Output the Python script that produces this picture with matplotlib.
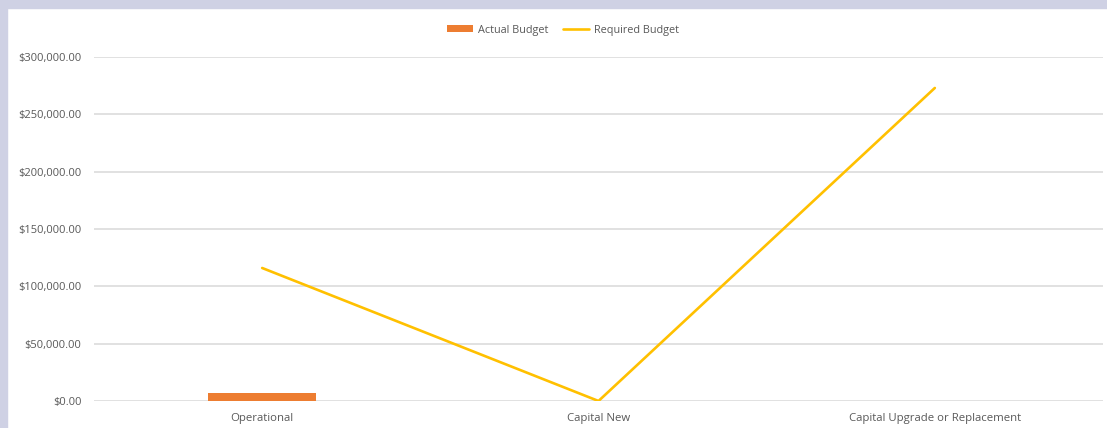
import matplotlib
matplotlib.use("Agg")
import matplotlib.pyplot as plt
from matplotlib.patches import Rectangle
from matplotlib.ticker import FuncFormatter

categories = ["Operational", "Capital New", "Capital Upgrade or Replacement"]
actual_budget = [7000, 0, 0]
required_budget = [116000, 0, 273000]
yticks = [0, 50000, 100000, 150000, 200000, 250000, 300000]

W, H = 1107, 428
fig = plt.figure(figsize=(W / 100, H / 100), dpi=100)
fig.patch.set_facecolor("white")

# lavender frame
border = "#cfd1e4"
fig.add_artist(Rectangle((0, 1 - 8 / H), 1, 8 / H, transform=fig.transFigure, color=border, zorder=0))
fig.add_artist(Rectangle((0, 0), 7 / W, 1, transform=fig.transFigure, color=border, zorder=0))

left, right = 94 / W, 1103 / W
bottom, top = 1 - 401 / H, 1 - 57 / H
ax = fig.add_axes([left, bottom, right - left, top - bottom])
ax.set_facecolor("none")

x = list(range(len(categories)))
bars = ax.bar(x, actual_budget, width=0.32, color="#ED7D31", label="Actual Budget", zorder=3)
line, = ax.plot(x, required_budget, color="#FFC000", linewidth=1.9, label="Required Budget", zorder=4,
                solid_capstyle="round")

ax.set_xlim(-0.5, 2.5)
ax.set_ylim(0, 300000)
ax.set_yticks(yticks)
ax.yaxis.set_major_formatter(FuncFormatter(lambda v, p: f"${v:,.2f}"))
ax.set_xticks(x)
ax.set_xticklabels(categories)
ax.tick_params(axis="both", length=0, colors="#595959")
ax.tick_params(axis="y", pad=9, labelsize=8.0)
ax.tick_params(axis="x", pad=9, labelsize=8.2)
for lbl in ax.get_xticklabels() + ax.get_yticklabels():
    lbl.set_fontfamily("Open Sans")
ax.grid(axis="y", color="#d9d9d9", linewidth=1.1, zorder=0)
ax.set_axisbelow(True)
for s in ax.spines.values():
    s.set_visible(False)

leg = fig.legend(handles=[bars, line], labels=["Actual Budget", "Required Budget"],
                 loc="center", bbox_to_anchor=(563 / W, 1 - 30 / H), ncol=2, frameon=False,
                 prop={"family": "Open Sans", "size": 7.8}, handlelength=2.4, handleheight=0.55,
                 columnspacing=1.4, handletextpad=0.4)
for t in leg.get_texts():
    t.set_color("#595959")

fig.savefig("out.png", dpi=100)
